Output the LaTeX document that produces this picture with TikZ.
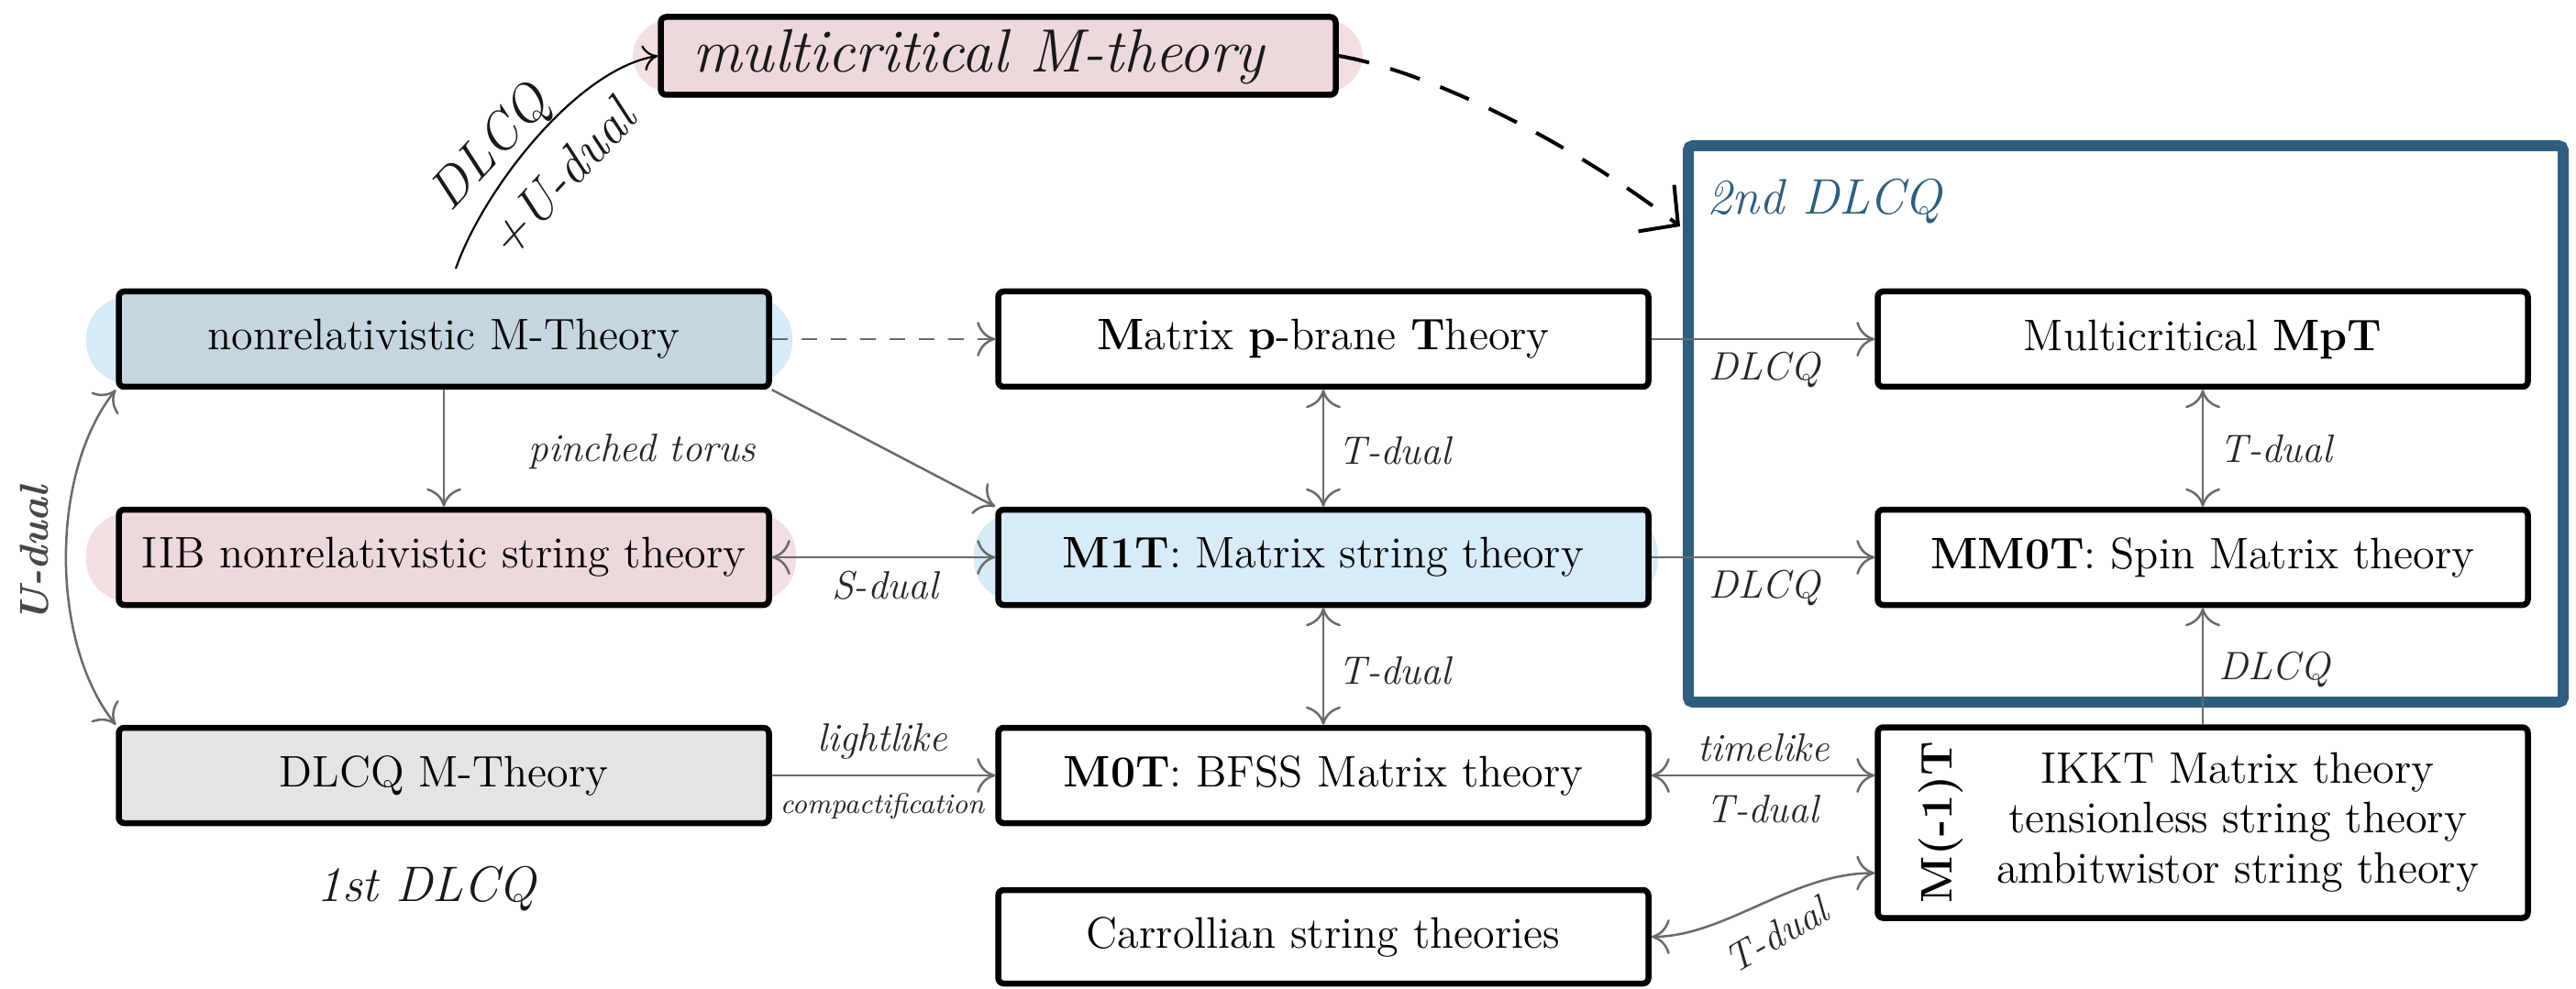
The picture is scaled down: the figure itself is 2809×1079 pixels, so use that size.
\documentclass[tikz,border=0pt]{standalone}
\usepackage{fontspec}
\usetikzlibrary{arrows.meta}

\definecolor{framecol}{HTML}{2E5E7E}
\definecolor{mblue}{HTML}{C6D6E1}
\definecolor{glowblue}{HTML}{D6EAF7}
\definecolor{spink}{HTML}{EDD8DC}
\definecolor{glowpink}{HTML}{F2DFE2}
\definecolor{dgrey}{HTML}{E4E4E4}
\definecolor{lblue}{HTML}{D8EBF8}
\definecolor{linegrey}{HTML}{6A6A6A}

\newcommand\fsz[2]{\fontsize{#1}{#2}\selectfont}

\begin{document}
\begin{tikzpicture}[x=0.1mm,y=-0.1mm,
  box/.style={draw=black,line width=0.65mm,rounded corners=0.6mm,
    minimum width=70.9mm,minimum height=10.4mm,inner sep=0pt,
    align=center,font=\fsz{13.7}{16}},
  link/.style={draw=linegrey,line width=0.25mm,-{To[length=2mm,width=3.8mm]}},
  twoway/.style={draw=linegrey,line width=0.25mm,
    {To[length=2mm,width=3.8mm]}-{To[length=2mm,width=3.8mm]}},
  lab/.style={inner sep=0pt,font=\fsz{12.3}{14}\itshape,text=black!85},
  hand/.style={inner sep=0pt,text=black!90}
]
\useasboundingbox (0,0) rectangle (2809,1079);
\fill[white] (0,0) rectangle (2809,1079);

% soft coloured halos behind some boxes
\fill[glowblue, rounded corners=4.5mm] (94,324) rectangle (864,418);
\fill[glowpink, rounded corners=4.5mm] (94,560) rectangle (868,656);
\fill[glowblue, rounded corners=4.5mm] (1062,560) rectangle (1808,656);
\fill[glowpink, rounded corners=4mm] (690,22) rectangle (1486,100);

% second DLCQ frame
\node[draw=framecol,line width=1.2mm,rounded corners=0.5mm,inner sep=0pt,
      minimum width=95.4mm,minimum height=60.7mm] (frame) at (2318,462.5) {};
\node[hand,anchor=west,text=framecol,font=\fsz{15.5}{18}\itshape] (second) at (1861,220) {2nd DLCQ};

% theory boxes
\node[box,fill=mblue] (nrm) at (484,370) {nonrelativistic M-Theory};
\node[box,fill=spink] (iib) at (484,608) {IIB nonrelativistic string theory};
\node[box,fill=dgrey] (dlcqm) at (484,846) {DLCQ M-Theory};
\node[box,fill=white] (mpb) at (1443,370) {\textbf{M}atrix \textbf{p}-brane \textbf{T}heory};
\node[box,fill=lblue] (m1t) at (1443,608) {\textbf{M1T}: Matrix string theory};
\node[box,fill=white] (m0t) at (1443,846) {\textbf{M0T}: BFSS Matrix theory};
\node[box,fill=white,minimum height=10.2mm] (carr) at (1443,1022) {Carrollian string theories};
\node[box,fill=white] (mmpt) at (2402,370) {Multicritical \textbf{MpT}};
\node[box,fill=white] (mm0t) at (2402,608) {\textbf{MM0T}: Spin Matrix theory};
\node[box,fill=white,minimum height=20.8mm] (mm1t) at (2402,897.5) {};
\node[rotate=90,inner sep=0pt,font=\fsz{13.7}{16}\bfseries] (mm1name) at (2116,897) {M(-1)T};
\node[inner sep=0pt,align=center,font=\fsz{13.7}{15.45}] (ikkt) at (2440,897)
  {IKKT Matrix theory\\tensionless string theory\\ambitwistor string theory};

% multicritical M-theory
\node[box,fill=spink,minimum width=73.6mm,minimum height=8.5mm] (mcm) at (1088.5,61) {};
\node[hand,font=\fsz{19}{22}\itshape] (mcmtext) at (1067,62) {multicritical M-theory};

% handwritten note under the first column
\node[hand,font=\fsz{15.5}{18}\itshape] (first) at (465,970) {1st DLCQ};

% connectors
\draw[link] (nrm) -- (iib);
\node[lab] (pinch) at (700,493) {pinched torus};
\draw[link] (nrm.south east) -- (m1t.north west);
\draw[link,dash pattern=on 1.7mm off 1.5mm] (nrm) -- (mpb);
\draw[twoway] (iib) -- (m1t);
\node[lab] (sdual) at (965,639) {S-dual};
\draw[twoway] (nrm.south west) .. controls +(-72,90) and +(-72,-90) .. (dlcqm.north west);
\node[rotate=90,inner sep=0pt,font=\fsz{12.5}{14}\bfseries\itshape,text=black!72] (udual) at (38,605) {U-dual};

\draw[link] (dlcqm) -- (m0t);
\node[lab] (light) at (962,809) {lightlike};
\node[lab,font=\fsz{8.8}{10}\itshape] (compact) at (962,880) {compactification};

\draw[twoway] (mpb) -- (m1t);
\node[lab] (td1) at (1521,492) {T-dual};
\draw[twoway] (m1t) -- (m0t);
\node[lab] (td2) at (1521,732) {T-dual};

\draw[twoway] (m0t.east) -- (m0t.east -| mm1t.west);
\node[lab] (timel) at (1923,816) {timelike};
\node[lab] (td3) at (1922,883) {T-dual};

\draw[twoway] (carr.east) .. controls +(80,0) and +(-90,0) .. ([yshift=-5.5mm]mm1t.west);
\node[lab,rotate=30] (td4) at (1937,1020) {T-dual};

\draw[link] (mpb) -- (mmpt);
\node[lab] (dl1) at (1924,403) {DLCQ};
\draw[link] (m1t) -- (mm0t);
\node[lab] (dl2) at (1924,641) {DLCQ};
\draw[twoway] (mmpt) -- (mm0t);
\node[lab] (td5) at (2482,490) {T-dual};
\draw[link] (mm1t) -- (mm0t);
\node[lab] (dl3) at (2480,730) {DLCQ};

% hand-drawn arrows at the top
\coordinate (cstart) at (497,293);
\draw[black,line width=0.22mm,-{To[length=1.6mm,width=2.8mm]}]
  (cstart) .. controls (528,205) and (630,75) .. (mcm.west);
\node[hand,rotate=47,font=\fsz{16.5}{18}\itshape] (hdlcq) at (536,163) {DLCQ};
\node[hand,rotate=47,font=\fsz{16.5}{18}\itshape] (hudual) at (612,195) {+U-dual};

\coordinate (dtip) at (1832,247);
\draw[black,line width=0.4mm,dash pattern=on 3.4mm off 2.4mm,
      -{Straight Barb[length=3mm,width=6.4mm]}]
  (mcm.east) .. controls +(90,15) and +(-130,-100) .. (dtip);
\end{tikzpicture}
\end{document}
